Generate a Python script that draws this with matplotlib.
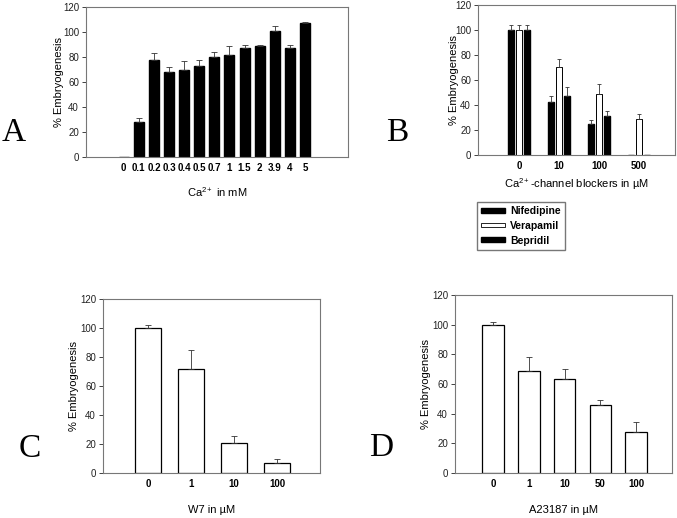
import numpy as np
import matplotlib.pyplot as plt
from matplotlib.patches import Patch

plt.rcParams['font.family'] = ['Liberation Sans', 'DejaVu Sans']
plt.rcParams['mathtext.fontset'] = 'custom'
plt.rcParams['mathtext.rm'] = 'Liberation Sans'
plt.rcParams['mathtext.it'] = 'Liberation Sans:italic'
plt.rcParams['mathtext.bf'] = 'Liberation Sans:bold'

W, H = 677, 518

# Panel A: Ca2+ concentration
a_labels = ['0', '0.1', '0.2', '0.3', '0.4', '0.5', '0.7', '1', '1.5', '2', '3.9', '4', '5']
a_vals = [0, 28, 78, 68, 70, 73, 80, 81.5, 87, 89, 100.5, 87, 107]
a_errs = [0, 3, 5, 4, 7, 5, 4, 7, 3, 1, 4, 3, 1]

# Panel B: channel blockers
b_labels = ['0', '10', '100', '500']
b_nifedipine = [100, 42.5, 25, 0]
b_nifedipine_err = [4, 5, 3, 0]
b_verapamil = [100, 70.5, 48.5, 28.5]
b_verapamil_err = [4, 6, 8, 4]
b_bepridil = [100, 47.5, 31.5, 0]
b_bepridil_err = [4, 7, 3.5, 0]

# Panel C: W7
c_labels = ['0', '1', '10', '100']
c_vals = [100, 71.5, 21, 7]
c_errs = [2, 13.5, 4.5, 3]

# Panel D: A23187
d_labels = ['0', '1', '10', '50', '100']
d_vals = [100, 69, 63.3, 45.8, 27.8]
d_errs = [2, 9.5, 6.5, 3.3, 6.3]


def rect(l, t, r, b):
    return [l / W, 1 - b / H, (r - l) / W, (b - t) / H]


def style(ax, labels, xlim, xlabel, xlab_pad, ylab_pad):
    ax.set_ylim(0, 120)
    ax.set_yticks(np.arange(0, 121, 20))
    ax.set_xlim(*xlim)
    ax.set_xticks(np.arange(len(labels)))
    ax.set_xticklabels(labels, weight='bold', fontsize=7)
    ax.tick_params(axis='x', length=0, pad=4)
    ax.tick_params(axis='y', length=3, width=0.6, labelsize=7, pad=2, colors='#222222')
    for s in ax.spines.values():
        s.set_color('#777777')
        s.set_linewidth(0.8)
    ax.set_ylabel('% Embryogenesis', fontsize=8, labelpad=ylab_pad)
    ax.set_xlabel(xlabel, fontsize=8, labelpad=xlab_pad)


fig = plt.figure(figsize=(W / 100, H / 100), dpi=100)
ekw = dict(elinewidth=0.6, capthick=0.6, ecolor='#333333')

# A
axA = fig.add_axes(rect(86, 7, 348, 157))
xa = np.arange(len(a_vals))
axA.bar(xa, a_vals, width=0.66, color='black', edgecolor='black',
        yerr=[np.zeros(len(a_errs)), a_errs], capsize=2, error_kw=ekw)
style(axA, a_labels, (-2.5, 14.85), 'Ca$^{2+}$ in mM', 9, -1)

# B
axB = fig.add_axes(rect(478, 5, 675, 155))
xb = np.arange(len(b_labels))
off = 0.2
bw = 0.135
axB.bar(xb - off, b_nifedipine, width=bw, color='black', edgecolor='black',
        yerr=[np.zeros(4), b_nifedipine_err], capsize=1.5, error_kw=ekw)
axB.bar(xb, b_verapamil, width=bw, color='white', edgecolor='black', linewidth=0.7,
        yerr=[np.zeros(4), b_verapamil_err], capsize=1.5, error_kw=ekw)
axB.bar(xb + off, b_bepridil, width=bw, color='black', edgecolor='black',
        yerr=[np.zeros(4), b_bepridil_err], capsize=1.5, error_kw=ekw)
style(axB, b_labels, (-1.03, 3.9), 'Ca$^{2+}$-channel blockers in \u00b5M', 4, -3)

handles = [Patch(facecolor='black', edgecolor='black', label='Nifedipine'),
           Patch(facecolor='white', edgecolor='black', linewidth=0.6, label='Verapamil'),
           Patch(facecolor='black', edgecolor='black', label='Bepridil')]
fig.legend(handles=handles, loc='upper left', bbox_to_anchor=(477 / W, 1 - 202 / H),
           prop=dict(weight='bold', size=7.5), handlelength=2.3, handleheight=0.3,
           labelspacing=0.45, handletextpad=0.5, borderpad=0.4, borderaxespad=0,
           fancybox=False, edgecolor='#777777', framealpha=1)

# C
axC = fig.add_axes(rect(103, 299, 320, 473))
xc = np.arange(len(c_vals))
axC.bar(xc, c_vals, width=0.6, color='white', edgecolor='black', linewidth=0.9,
        yerr=[np.zeros(len(c_errs)), c_errs], capsize=2, error_kw=ekw)
style(axC, c_labels, (-1.05, 4.0), 'W7 in \u00b5M', 12, 1)

# D
axD = fig.add_axes(rect(455, 295, 672, 473))
xd = np.arange(len(d_vals))
axD.bar(xd, d_vals, width=0.6, color='white', edgecolor='black', linewidth=0.9,
        yerr=[np.zeros(len(d_errs)), d_errs], capsize=2, error_kw=ekw)
style(axD, d_labels, (-1.06, 5.0), 'A23187 in \u00b5M', 12, 1)

# panel letters
for txt, x, y in [('A', 14, 133), ('B', 397, 133), ('C', 30, 449), ('D', 381, 448)]:
    fig.text(x / W, 1 - y / H, txt, family='Liberation Serif', fontsize=24,
             ha='center', va='center')

fig.savefig('out.png', dpi=100)
